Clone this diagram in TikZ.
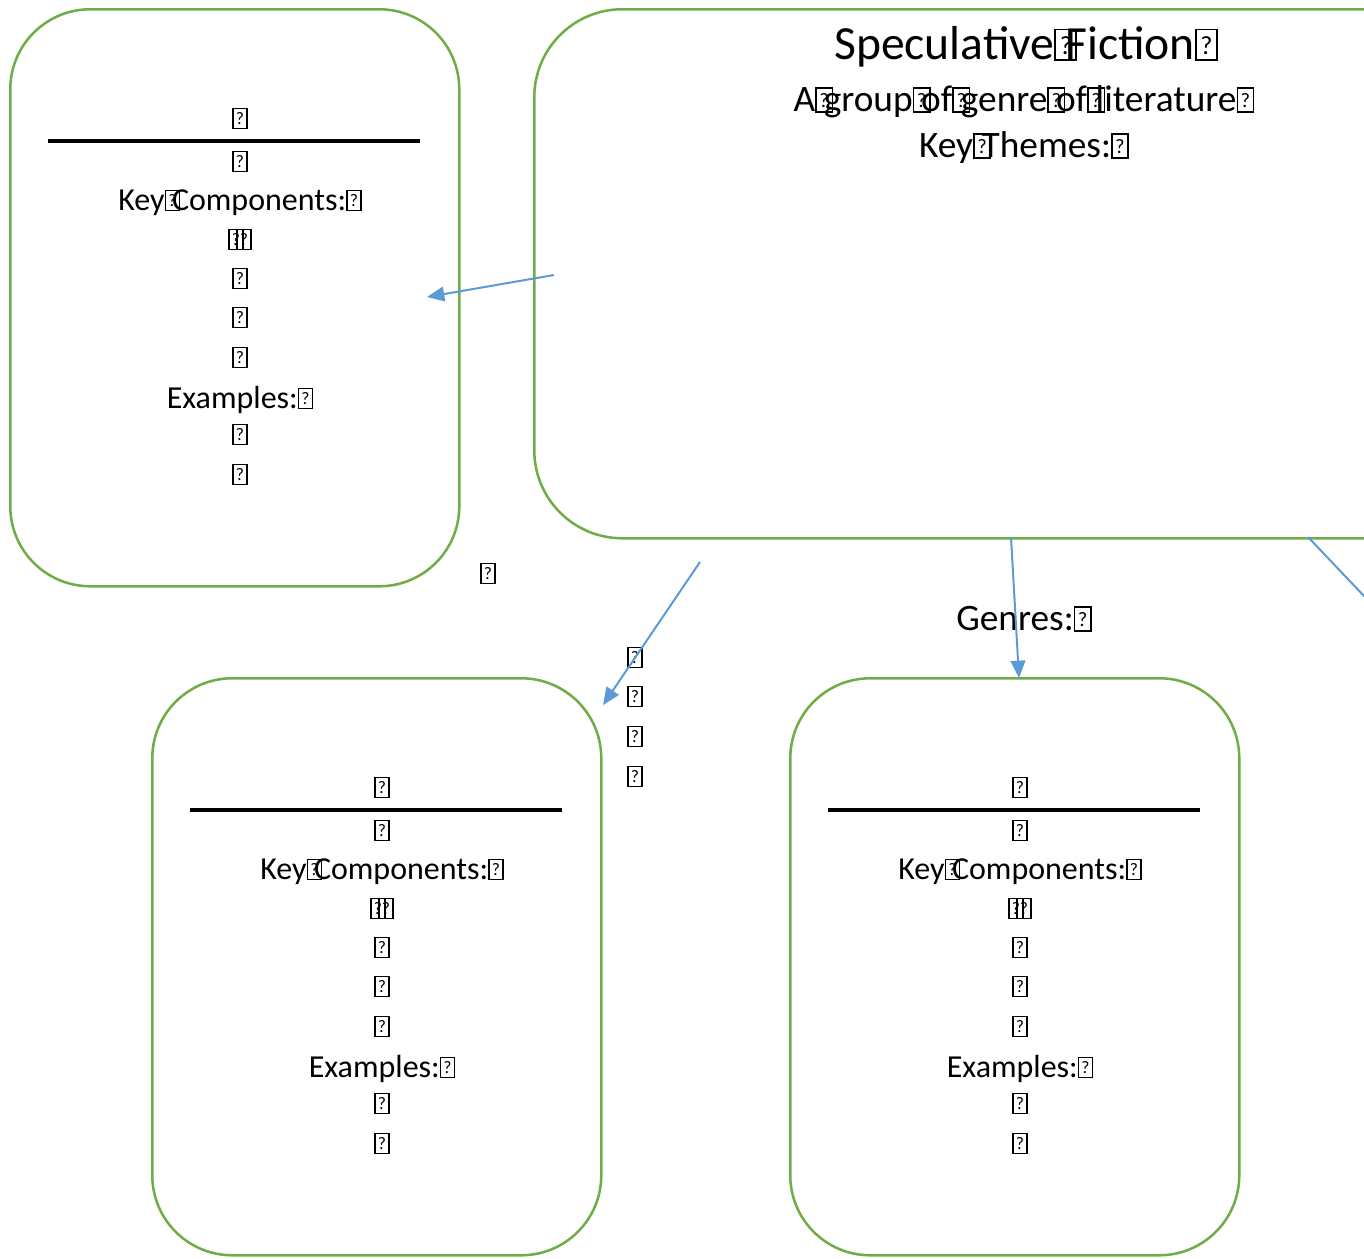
\documentclass[tikz,border=0pt]{standalone}
\usepackage{fontspec}
\setmainfont{Carlito}
\usepackage{graphicx}
\usetikzlibrary{arrows.meta, calc}

\definecolor{boxgreen}{HTML}{70AD47}
\definecolor{linkblue}{HTML}{5B9BD5}

% glyph that the font lacks, drawn as a framed question mark
\newcommand{\missbox}{{\setlength{\fboxsep}{0pt}\setlength{\fboxrule}{0.04em}%
    \fbox{\makebox[0.4em]{\rule{0pt}{0.6em}\raisebox{0.1em}{\scalebox{0.55}{?}}}}}}
\newcommand{\missgap}{\makebox[0.23em][l]{\missbox}}
\newcommand{\misspair}{\makebox[0.25em][l]{\missbox}\missbox}

\begin{document}
\begin{tikzpicture}[x=0.75pt, y=-0.75pt]
    \tikzstyle{card}=[draw=boxgreen, line width=1.9pt, rectangle, rounded corners=60pt, anchor=north west, minimum width=449*0.75pt, minimum height=577*0.75pt]
    \tikzstyle{body}=[inner sep=0pt, text height=0.6em, text depth=0pt, font=\fontsize{24pt}{29pt}\selectfont]
    \tikzstyle{head}=[body, font=\fontsize{35.7pt}{42pt}\selectfont]
    \tikzstyle{sub}=[body, font=\fontsize{28pt}{34pt}\selectfont]
    \tikzstyle{rulebar}=[draw, black, line width=2.5pt]
    \tikzstyle{edge}=[draw, linkblue, line width=1.5pt, -{Triangle[length=13pt, width=11pt]}]

    \useasboundingbox (0,0) rectangle (1364,1258);
    \clip (0,0) rectangle (1364,1258);

    % main topic
    \node[card, rounded corners=66pt, minimum width=984*0.75pt, minimum height=529*0.75pt] (spec) at (533,8) {};
    \node[head] (specTitle) at (1026,55) {Speculative\missgap Fiction\missbox};
    \node[sub] (specSub) at (1024,107) {A\missgap group\missgap of\missgap genre\missgap of\missgap literature\missbox};
    \node[sub] (specThemes) at (1024,153) {Key\missgap Themes:\missbox};

    % the three genre cards
    \foreach \bn/\bx/\by in {cardA/9/8, cardC/151/677, cardD/789/677}{
        \node[card] (\bn) at (\bx,\by) {};
        \path[rulebar] ($(\bn.north west)+(39,133)$) -- ($(\bn.north east)+(-41,133)$);
        \foreach \dy/\txt [count=\k] in {116/\missbox, 159/\missbox, 198/{Key\missgap Components:\missbox},
            237/\misspair, 276/\missbox, 315/\missbox, 355/\missbox,
            396/{Examples:\missbox}, 432/\missbox, 472/\missbox}{
            \node[body] (\bn-\k) at ($(\bn.north west)+(231,\dy)$) {\txt};
        }
    }

    % loose glyphs
    \node[body] (gapA) at (488,579) {\missbox};
    \foreach \ly [count=\k] in {663, 702, 742, 782}
        \node[body] (list-\k) at (635,\ly) {\missbox};
    \node[sub] (genres) at (1024,626) {Genres:\missbox};

    \coordinate (outA) at (554,275);
    \coordinate (inA) at (427,297);
    \coordinate (outC) at (700,562);
    \coordinate (inC) at (603,705);
    \coordinate (outD) at (1011,537);
    \coordinate (inD) at (1019,678);
    \coordinate (outE) at (1308,537);
    \coordinate (farE) at (1420,655);

    \path[edge] (outA) -- (inA);
    \path[edge] (outC) -- (inC);
    \path[edge] (outD) -- (inD);
    \path[edge, -] (outE) -- (farE);
\end{tikzpicture}
\end{document}
